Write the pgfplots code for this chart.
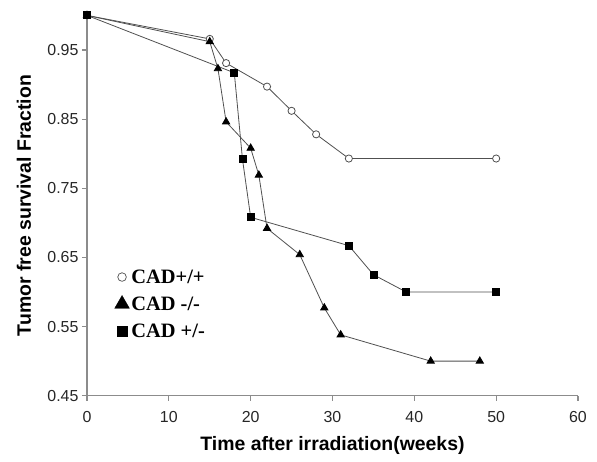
\documentclass[border=0pt]{standalone}
\usepackage{fontspec}
\setmainfont{Liberation Sans}
\newfontfamily\serifb{Liberation Serif}
\usepackage{pgfplots}
\pgfplotsset{compat=1.18}
\definecolor{axgray}{HTML}{8C8C8C}
\definecolor{lngray}{HTML}{505050}
\begin{document}
\begin{tikzpicture}
\useasboundingbox (-87bp,-66.3bp) rectangle (510bp,395.7bp);
\begin{axis}[
 at={(0,0)}, anchor=south west,
 scale only axis, width=491bp, height=380.3bp,
 xmin=0, xmax=60, ymin=0.45, ymax=1.0,
 clip=false,
 axis lines*=left,
 axis line style={draw=axgray, line width=1.1bp},
 tick style={draw=axgray, line width=1.1bp},
 tick align=outside, major tick length=5bp,
 xtick={0,10,20,30,40,50,60}, xticklabels={0,10,20,30,40,50,60},
 ytick={0.45,0.55,0.65,0.75,0.85,0.95}, yticklabels={0.45,0.55,0.65,0.75,0.85,0.95},
 /pgf/number format/assume math mode=true,
 ticklabel style={font=\fontsize{16}{18}\selectfont, text=black!85},
 xticklabel style={yshift=-7bp},
 xlabel={Time after irradiation(weeks)},
 ylabel={Tumor free survival Fraction},
 label style={font=\fontsize{19.5}{22}\selectfont\bfseries},
 xlabel style={at={(axis description cs:0.5,-0.1315)}, anchor=center},
 ylabel style={at={(axis description cs:-0.1283,0.5)}, anchor=center},
 legend style={draw=none, fill=none, at={(axis description cs:0.056,0.241)}, anchor=west,
   font=\serifb\bfseries\fontsize{20.5}{23}\selectfont, row sep=8bp, inner sep=0pt},
 legend cell align=left,
 legend image code/.code={\draw[#1] plot coordinates {(0cm,0cm)};},
]
\addlegendimage{only marks, mark=*, mark size=4.3bp, mark options={fill=white, draw=lngray, line width=0.7bp}}
\addlegendentry{CAD+/+}
\addlegendimage{only marks, mark=triangle*, mark size=8.5bp, mark options={fill=black, draw=black}}
\addlegendentry{CAD -/-}
\addlegendimage{only marks, mark=square*, mark size=5bp, mark options={fill=black, draw=black}}
\addlegendentry{CAD +/-}

\addplot[forget plot, color=lngray, line width=0.8bp, mark=*, mark size=3.6bp,
  mark options={fill=white, draw=lngray, line width=0.8bp}] coordinates {
 (0,1) (15,0.966) (17,0.931) (22,0.897) (25,0.862) (28,0.828) (32,0.793) (50,0.793)};
\addplot[forget plot, color=lngray, line width=0.8bp, mark=triangle*, mark size=4.2bp,
  mark options={fill=black, draw=black}] coordinates {
 (0,1) (15,0.962) (16,0.923) (17,0.846) (20,0.808) (21,0.769) (22,0.692) (26,0.654) (29,0.577) (31,0.538) (42,0.5) (48,0.5)};
\addplot[forget plot, color=lngray, line width=0.8bp, mark=square*, mark size=3.5bp,
  mark options={fill=black, draw=black}] coordinates {
 (0,1) (18,0.917) (19,0.792) (20,0.708) (32,0.667) (35,0.625) (39,0.6) (50,0.6)};
\end{axis}
\end{tikzpicture}
\end{document}
